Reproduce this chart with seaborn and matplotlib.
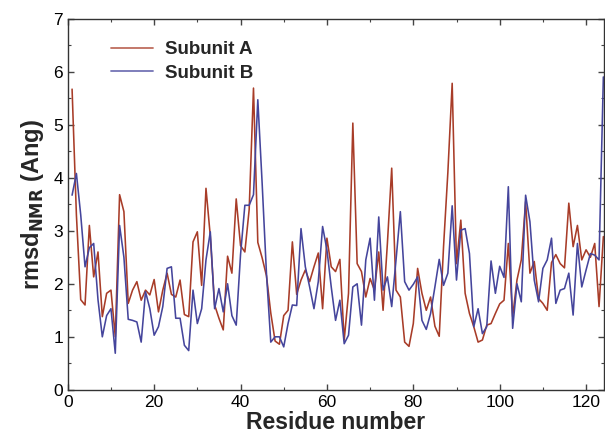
import numpy as np
import pandas as pd
import matplotlib
matplotlib.use("Agg")
import matplotlib.pyplot as plt
from matplotlib.ticker import MultipleLocator
import seaborn as sns

# --- data: per-residue rmsd (Ang), residues 1..124 ---
residues = list(range(1, 125))

subunit_a = [
    5.67, 3.3, 1.7, 1.6, 3.1, 2.13, 2.6, 1.38, 1.82, 1.88,
    1.0, 3.68, 3.36, 1.63, 1.88, 2.04, 1.69, 1.88, 1.79, 2.08,
    1.47, 1.88, 2.2, 1.8, 1.75, 2.07, 1.42, 1.38, 2.79, 2.98,
    1.97, 3.8, 2.9, 1.6, 1.35, 1.13, 2.52, 2.2, 3.6, 2.72,
    2.6, 3.4, 5.69, 2.78, 2.49, 2.15, 1.45, 0.92, 0.86, 1.4,
    1.5, 2.79, 1.8, 2.07, 2.26, 2.04, 2.32, 2.58, 1.53, 2.86,
    2.32, 2.23, 2.46, 0.94, 1.82, 5.03, 2.38, 2.23, 1.75, 2.1,
    1.88, 2.6, 1.5, 2.76, 4.18, 1.88, 1.75, 0.9, 0.82, 1.25,
    2.29, 1.82, 1.5, 1.75, 1.2, 1.01, 2.7, 4.1, 5.78, 2.38,
    3.2, 1.82, 1.44, 1.19, 0.9, 0.94, 1.22, 1.25, 1.44, 1.62,
    1.69, 2.76, 1.38, 2.07, 2.45, 3.55, 2.2, 2.42, 1.72, 1.63,
    1.5, 2.4, 2.55, 2.38, 2.3, 3.52, 2.7, 3.1, 2.45, 2.64,
    2.5, 2.76, 1.57, 2.89,
]

subunit_b = [
    3.67, 4.08, 3.3, 2.32, 2.68, 2.76, 1.7, 1.0, 1.4, 1.53,
    0.69, 3.1, 2.5, 1.33, 1.31, 1.28, 0.9, 1.85, 1.53, 1.03,
    1.19, 1.57, 2.29, 2.32, 1.35, 1.35, 0.84, 0.74, 1.88, 1.25,
    1.53, 2.45, 2.98, 1.53, 1.91, 1.47, 2.0, 1.4, 1.22, 2.55,
    3.48, 3.48, 3.68, 5.47, 3.9, 2.2, 0.9, 1.0, 1.0, 0.81,
    1.25, 1.6, 1.59, 3.04, 2.32, 1.94, 1.53, 2.04, 3.08, 2.64,
    1.94, 1.31, 1.69, 0.87, 1.03, 1.94, 2.0, 1.22, 2.45, 2.86,
    1.69, 3.26, 1.88, 2.13, 1.57, 2.45, 3.36, 2.04, 1.88, 1.99,
    2.13, 1.31, 1.14, 1.44, 1.94, 2.46, 1.97, 2.2, 3.47, 2.07,
    3.01, 3.04, 2.57, 1.19, 1.53, 1.06, 1.19, 2.43, 1.82, 2.33,
    2.12, 3.83, 1.16, 2.0, 1.66, 3.67, 3.17, 2.07, 1.66, 2.29,
    2.45, 2.86, 1.63, 1.88, 1.91, 2.2, 1.41, 2.76, 1.94, 2.26,
    2.57, 2.54, 2.45, 5.9,
]

labels = ["Subunit A", "Subunit B"]
colors = {"Subunit A": "#a83c28", "Subunit B": "#45459c"}

df = pd.concat([
    pd.DataFrame({"Residue": residues, "rmsd": subunit_a, "Subunit": labels[0]}),
    pd.DataFrame({"Residue": residues, "rmsd": subunit_b, "Subunit": labels[1]}),
], ignore_index=True)

sns.set_theme(style="ticks")
plt.rcParams["font.family"] = ["Liberation Sans", "DejaVu Sans"]

fig = plt.figure(figsize=(6.05, 4.43), dpi=100)
ax = fig.add_axes([0.112, 0.12, 0.886, 0.838])

sns.lineplot(data=df, x="Residue", y="rmsd", hue="Subunit",
             palette=colors, linewidth=1.15, ax=ax, legend=False)

ax.set_xlim(0, 124.1)
ax.set_ylim(0, 7)
ax.xaxis.set_major_locator(MultipleLocator(20))
ax.xaxis.set_minor_locator(MultipleLocator(10))
ax.yaxis.set_major_locator(MultipleLocator(1))
ax.yaxis.set_minor_locator(MultipleLocator(0.5))
ax.tick_params(which="both", direction="in", top=True, right=True,
               colors="#444444", labelcolor="black", labelsize=12.5)
ax.tick_params(which="major", length=4, width=1)
ax.tick_params(which="minor", length=2, width=0.8)
for side, sp in ax.spines.items():
    sp.set_color("#333333")
    sp.set_linewidth(1.0)

ax.set_xlabel("Residue number", fontsize=16.5, fontweight="bold", labelpad=1)
ax.set_ylabel(r"rmsd$_{\mathbf{NMR}}$ (Ang)", fontsize=17, fontweight="bold", labelpad=5)

handles = [plt.Line2D([], [], color=colors[l], linewidth=1.3, alpha=0.75) for l in labels]
leg = ax.legend(handles, labels, loc="upper left", bbox_to_anchor=(0.05, 0.985),
                frameon=False, handlelength=2.2, handletextpad=0.65,
                labelspacing=0.35, prop={"weight": "bold", "size": 13.5})

fig.savefig("out.png", dpi=100)
